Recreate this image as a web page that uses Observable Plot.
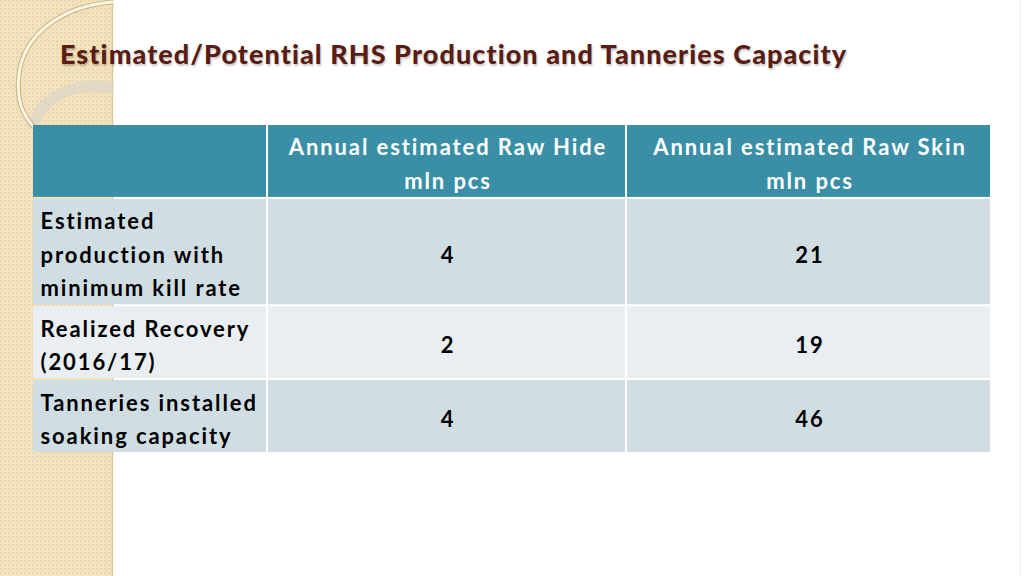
<!DOCTYPE html>
<html>
<head>
<meta charset="utf-8">
<script src="https://cdn.jsdelivr.net/npm/d3@7"></script>
<script src="https://cdn.jsdelivr.net/npm/@observablehq/plot@0.6"></script>
<style>
  body { margin: 0; background: #fff; }
  #slide { position: relative; width: 1024px; height: 576px; overflow: hidden; background: #fff; }
  #deco { position: absolute; left: 0; top: 0; }
  #title { position: absolute; left: 60px; top: 37px; font-family: Lato, "Open Sans", sans-serif; font-weight: 900;
           font-size: 27px; letter-spacing: 1.05px; font-variant-ligatures: none; color: #5a1d14;
           text-shadow: 1px 2px 2px rgba(0,0,0,0.22); white-space: nowrap; }
  #chart { position: absolute; left: 0; top: 0; }
  #chart svg text { letter-spacing: 1.9px; font-variant-ligatures: none; }
</style>
</head>
<body>
<div id="slide">
  <svg id="deco" width="1024" height="576">
    <defs>
      <pattern id="dots" width="4" height="4" patternUnits="userSpaceOnUse">
        <rect width="4" height="4" fill="#f3e4bf"/>
        <circle cx="1" cy="1" r="0.9" fill="#e5d2a3"/>
        <circle cx="3" cy="3" r="0.7" fill="#ecdcb2"/>
      </pattern>
    </defs>
    <rect x="0" y="0" width="112" height="576" fill="url(#dots)"/>
    <line x1="112.5" y1="0" x2="112.5" y2="576" stroke="#d9c69b" stroke-width="1.5"/>
    <line x1="1020.5" y1="0" x2="1020.5" y2="576" stroke="#efefef" stroke-width="1"/>
    <path d="M 32 128 C 40 100, 70 80, 113 88" fill="none" stroke="#dcd6ca" stroke-width="11" opacity="0.75"/>
    <path d="M 113 2 C 62 6, 24 34, 19 74 C 16 100, 22 114, 34 127" fill="none" stroke="#c9b489" stroke-width="5"/>
    <path d="M 113 2 C 62 6, 24 34, 19 74 C 16 100, 22 114, 34 127" fill="none" stroke="#faf4e4" stroke-width="3"/>
  </svg>
  <div id="title">Estimated/Potential RHS Production and Tanneries Capacity</div>
  <div id="chart"></div>
</div>
<script>
// ---- Data ----
const columnHeaders = ["Annual estimated Raw Hide\nmln pcs", "Annual estimated Raw Skin\nmln pcs"];
const rowLabels = ["Estimated\nproduction with\nminimum kill rate", "Realized Recovery\n(2016/17)", "Tanneries installed\nsoaking capacity"];
const rawHide = [4, 2, 4];
const rawSkin = [21, 19, 46];

// ---- Layout (table geometry) ----
const colWidths = [235, 359, 365];          // label column, two value columns
const lineH = 33.5, pad = 7;
const rowLineCounts = [2, ...rowLabels.map(s => s.split("\n").length)];
const rowHeights = rowLineCounts.map(n => n * lineH + pad);
const colEdges = [0]; colWidths.forEach(w => colEdges.push(colEdges[colEdges.length - 1] + w));
const rowEdges = [0]; rowHeights.forEach(h => rowEdges.push(rowEdges[rowEdges.length - 1] + h));
const headerFill = "#3a8fa7", oddFill = "#d0dee3", evenFill = "#e8eef1";

const cells = [];
for (let r = 0; r < rowHeights.length; r++) {
  for (let c = 0; c < colWidths.length; c++) {
    cells.push({x1: colEdges[c], x2: colEdges[c + 1], y1: rowEdges[r], y2: rowEdges[r + 1],
      fill: r === 0 ? headerFill : (r % 2 === 1 ? oddFill : evenFill)});
  }
}
const mid = (a, i) => (a[i] + a[i + 1]) / 2;
const headerText = columnHeaders.map((t, i) => ({x: mid(colEdges, i + 1), y: mid(rowEdges, 0), t}));
const labelText = rowLabels.map((t, i) => ({x: colEdges[0], y: mid(rowEdges, i + 1), t}));
const valueText = rowLabels.flatMap((_, i) => [
  {x: mid(colEdges, 1), y: mid(rowEdges, i + 1), t: String(rawHide[i])},
  {x: mid(colEdges, 2), y: mid(rowEdges, i + 1), t: String(rawSkin[i])}
]);

const font = {fontFamily: "Lato, 'Open Sans', sans-serif", fontWeight: 700, fontSize: 22, lineHeight: 1.52};

const chart = Plot.plot({
  width: 1024, height: 576,
  marginLeft: 32, marginRight: 33, marginTop: 124, marginBottom: 123,
  style: {background: "transparent", overflow: "visible"},
  x: {type: "linear", domain: [0, colEdges[colEdges.length - 1]], axis: null},
  y: {type: "linear", domain: [0, rowEdges[rowEdges.length - 1]], reverse: true, axis: null},
  marks: [
    Plot.rect(cells, {x1: "x1", x2: "x2", y1: "y1", y2: "y2", fill: d => d.fill, inset: 1}),
    Plot.text(headerText, {x: "x", y: "y", text: "t", fill: "white", textAnchor: "middle", dx: 1, ...font}),
    Plot.text(labelText, {x: "x", y: "y", text: "t", fill: "black", textAnchor: "start", dx: 8, ...font}),
    Plot.text(valueText, {x: "x", y: "y", text: "t", fill: "black", textAnchor: "middle", dx: 1, ...font})
  ]
});
document.getElementById("chart").appendChild(chart);
</script>
</body>
</html>
